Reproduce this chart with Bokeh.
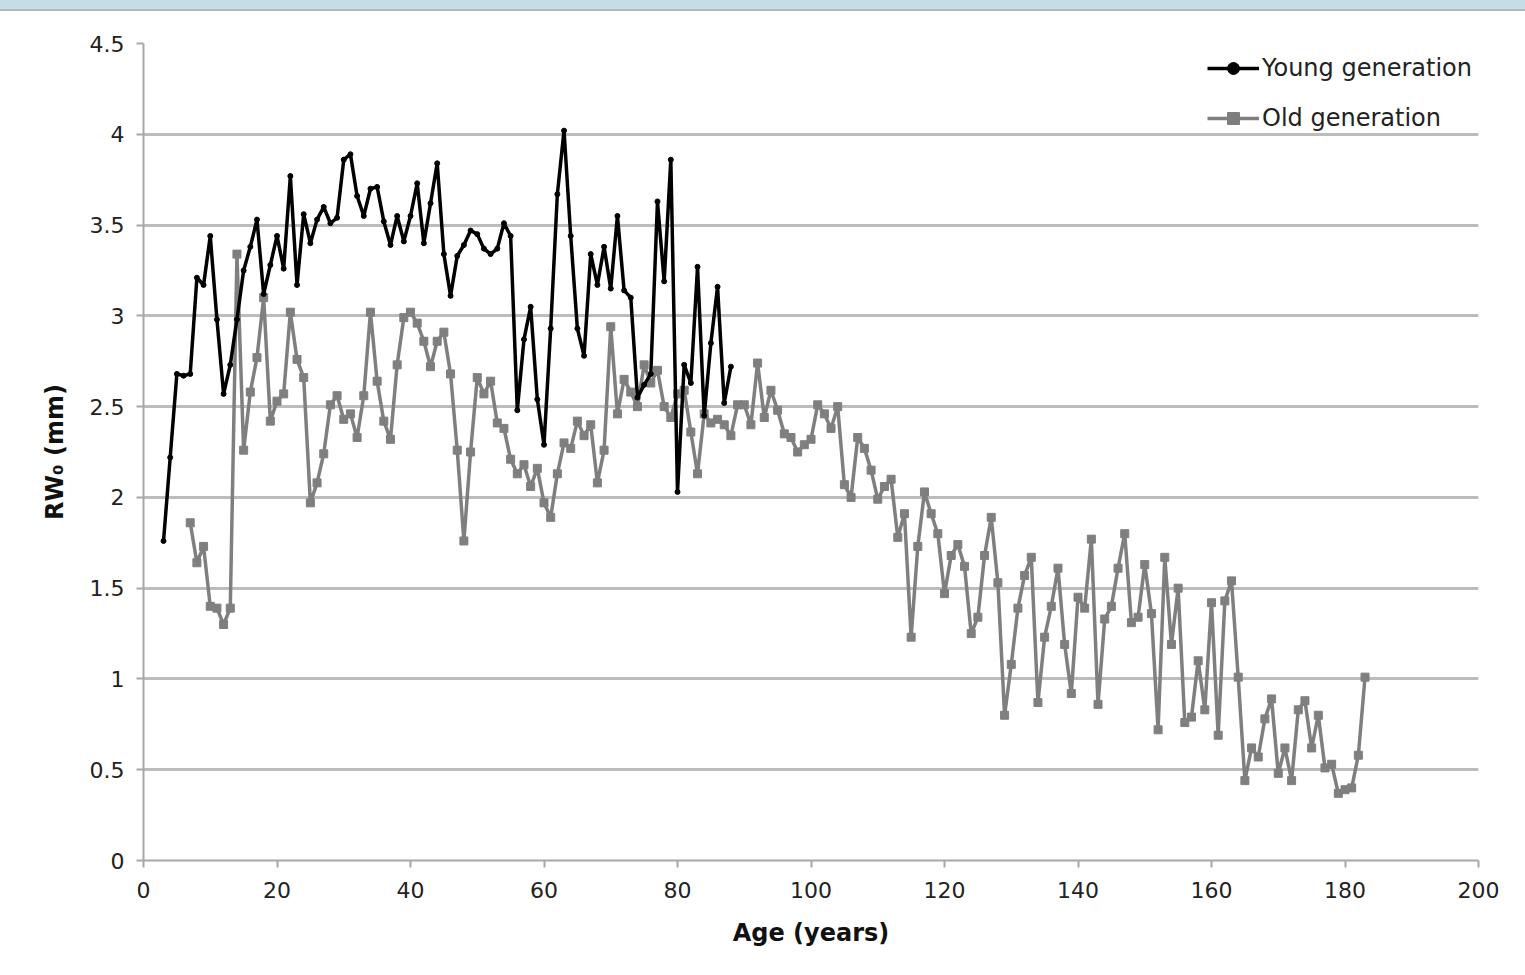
from bokeh.plotting import figure
from bokeh.models import Legend, LegendItem, FixedTicker, Range1d, Div
from bokeh.layouts import column
from bokeh.embed import file_html
from bokeh.resources import INLINE

young_age = list(range(3, 89))
young_rw = [1.76, 2.22, 2.68, 2.67, 2.68, 3.21, 3.17, 3.44, 2.98, 2.57,
            2.73, 2.98, 3.25, 3.38, 3.53, 3.12, 3.28, 3.44, 3.26, 3.77,
            3.17, 3.56, 3.40, 3.53, 3.60, 3.51, 3.54, 3.86, 3.89, 3.66,
            3.55, 3.70, 3.71, 3.52, 3.39, 3.55, 3.41, 3.55, 3.73, 3.40,
            3.62, 3.84, 3.34, 3.11, 3.33, 3.39, 3.47, 3.45, 3.37, 3.34,
            3.37, 3.51, 3.44, 2.48, 2.87, 3.05, 2.54, 2.29, 2.93, 3.67,
            4.02, 3.44, 2.93, 2.78, 3.34, 3.17, 3.38, 3.15, 3.55, 3.14,
            3.10, 2.55, 2.62, 2.68, 3.63, 3.19, 3.86, 2.03, 2.73, 2.63,
            3.27, 2.45, 2.85, 3.16, 2.52, 2.72]

old_age = list(range(7, 184))
old_rw = [1.86, 1.64, 1.73, 1.40, 1.39, 1.30, 1.39, 3.34, 2.26, 2.58,
          2.77, 3.10, 2.42, 2.53, 2.57, 3.02, 2.76, 2.66, 1.97, 2.08,
          2.24, 2.51, 2.56, 2.43, 2.46, 2.33, 2.56, 3.02, 2.64, 2.42,
          2.32, 2.73, 2.99, 3.02, 2.96, 2.86, 2.72, 2.86, 2.91, 2.68,
          2.26, 1.76, 2.25, 2.66, 2.57, 2.64, 2.41, 2.38, 2.21, 2.13,
          2.18, 2.06, 2.16, 1.97, 1.89, 2.13, 2.30, 2.27, 2.42, 2.34,
          2.40, 2.08, 2.26, 2.94, 2.46, 2.65, 2.58, 2.50, 2.73, 2.63,
          2.70, 2.50, 2.44, 2.57, 2.59, 2.36, 2.13, 2.46, 2.41, 2.43,
          2.40, 2.34, 2.51, 2.51, 2.40, 2.74, 2.44, 2.59, 2.48, 2.35,
          2.33, 2.25, 2.29, 2.32, 2.51, 2.46, 2.38, 2.50, 2.07, 2.00,
          2.33, 2.27, 2.15, 1.99, 2.06, 2.10, 1.78, 1.91, 1.23, 1.73,
          2.03, 1.91, 1.80, 1.47, 1.68, 1.74, 1.62, 1.25, 1.34, 1.68,
          1.89, 1.53, 0.80, 1.08, 1.39, 1.57, 1.67, 0.87, 1.23, 1.40,
          1.61, 1.19, 0.92, 1.45, 1.39, 1.77, 0.86, 1.33, 1.40, 1.61,
          1.80, 1.31, 1.34, 1.63, 1.36, 0.72, 1.67, 1.19, 1.50, 0.76,
          0.79, 1.10, 0.83, 1.42, 0.69, 1.43, 1.54, 1.01, 0.44, 0.62,
          0.57, 0.78, 0.89, 0.48, 0.62, 0.44, 0.83, 0.88, 0.62, 0.80,
          0.51, 0.53, 0.37, 0.39, 0.40, 0.58, 1.01]

x_ticks = [0, 20, 40, 60, 80, 100, 120, 140, 160, 180, 200]
y_ticks = [0, 0.5, 1, 1.5, 2, 2.5, 3, 3.5, 4, 4.5]
y_tick_labels = {0: "0", 0.5: "0.5", 1: "1", 1.5: "1.5", 2: "2", 2.5: "2.5",
                 3: "3", 3.5: "3.5", 4: "4", 4.5: "4.5"}

FONT = "DejaVu Sans"
GRID = "#bcbcbc"
OLD_COLOR = "#7f7f7f"
BAND = 11

p = figure(width=1525, height=975 - BAND, output_backend="svg", toolbar_location=None,
           x_range=Range1d(0, 200), y_range=Range1d(0, 4.5),
           min_border_left=143, min_border_right=47, min_border_top=43 - BAND,
           min_border_bottom=115, outline_line_color=None,
           background_fill_color="white", border_fill_color="white")
p.margin = (0, 0, 0, 0)

p.xaxis.ticker = FixedTicker(ticks=x_ticks)
p.yaxis.ticker = FixedTicker(ticks=y_ticks)
p.yaxis.major_label_overrides = y_tick_labels
for ax in (p.xaxis, p.yaxis):
    ax.axis_line_color = "#a8a8a8"
    ax.axis_line_width = 2
    ax.major_tick_line_color = "#a8a8a8"
    ax.major_tick_line_width = 2
    ax.major_tick_out = 7
    ax.major_tick_in = 0
    ax.minor_tick_line_color = None
    ax.major_label_text_font = FONT
    ax.major_label_text_font_size = "22px"
    ax.major_label_text_color = "#222222"
    ax.axis_label_text_font = FONT
    ax.axis_label_text_font_size = "24px"
    ax.axis_label_text_font_style = "bold"
    ax.axis_label_text_color = "#111111"
p.xaxis.axis_label = "Age (years)"
p.yaxis.axis_label = "RW\u2080 (mm)"
p.xaxis.major_label_standoff = 14
p.yaxis.major_label_standoff = 12
p.xaxis.axis_label_standoff = 18
p.yaxis.axis_label_standoff = 18

p.xgrid.grid_line_color = None
p.ygrid.ticker = FixedTicker(ticks=y_ticks)
p.ygrid.grid_line_color = GRID
p.ygrid.grid_line_width = 3

r_old_line = p.line(old_age, old_rw, line_color=OLD_COLOR, line_width=3.5)
r_old_pts = p.scatter(old_age, old_rw, marker="square", size=8,
                      fill_color=OLD_COLOR, line_color=OLD_COLOR)
r_young_line = p.line(young_age, young_rw, line_color="black", line_width=3.5)
r_young_pts = p.scatter(young_age, young_rw, marker="circle", size=5,
                        fill_color="black", line_color="black")

legend = Legend(items=[
    LegendItem(label="Young generation", renderers=[r_young_line, r_young_pts]),
    LegendItem(label="Old generation", renderers=[r_old_line, r_old_pts]),
], location=(1064, 727))
legend.label_text_font = FONT
legend.label_text_font_size = "24px"
legend.label_text_color = "#222222"
legend.glyph_width = 52
legend.glyph_height = 30
legend.label_height = 30
legend.spacing = 20
legend.padding = 0
legend.margin = 0
legend.label_standoff = 3
legend.border_line_color = None
legend.background_fill_alpha = 0
p.add_layout(legend, "center")

band = Div(text="", width=1525, height=BAND, margin=(0, 0, 0, 0),
           styles={"background-color": "#c6dce8", "border-bottom": "2px solid #b5b5b5",
                   "box-sizing": "border-box"})
layout = column(band, p, spacing=0, margin=(0, 0, 0, 0))

open("out.html", "w").write(file_html(layout, INLINE))
